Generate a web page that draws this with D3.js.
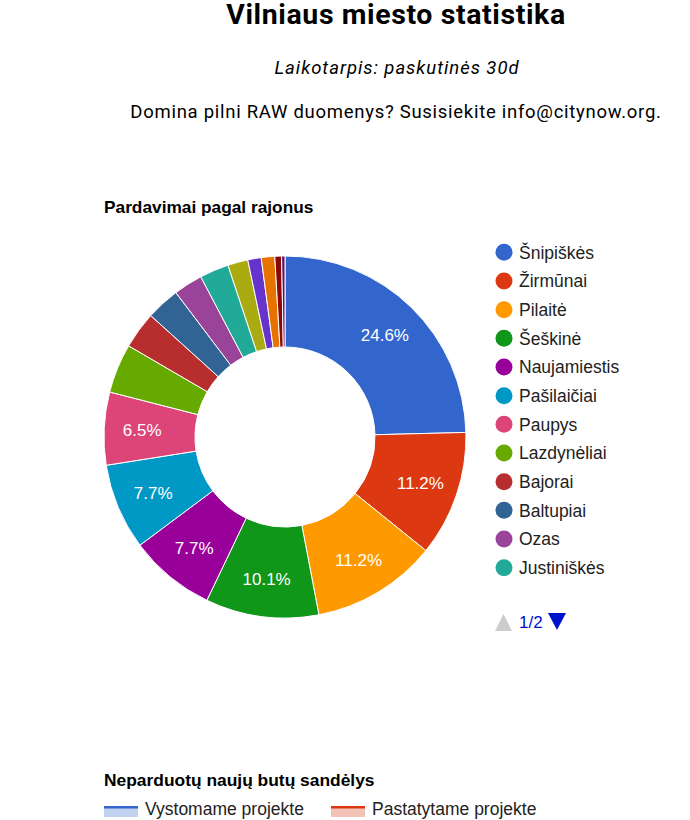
<!DOCTYPE html>
<html><head><meta charset="utf-8">
<script src="https://cdn.jsdelivr.net/npm/d3@7"></script>
<style>body{margin:0;background:#fff;overflow:hidden}</style>
</head><body><svg id="c" width="690" height="820"></svg>
<script>
const districts = ["Šnipiškės","Žirmūnai","Pilaitė","Šeškinė","Naujamiestis","Pašilaičiai","Paupys","Lazdynėliai","Bajorai","Baltupiai","Ozas","Justiniškės","Antakalnis","Užupis","Senamiestis","Fabijoniškės","Karoliniškės"];
const shares = [24.6,11.2,11.2,10.1,7.7,7.7,6.5,4.4,3.3,3.0,2.6,2.6,1.8,1.2,1.2,0.6,0.3];
const sliceColors = ["#3366cc","#dc3912","#ff9900","#109618","#990099","#0099c6","#dd4477","#66aa00","#b82e2e","#316395","#994499","#22aa99","#aaaa11","#6633cc","#e67300","#8b0707","#651067"];
const stockSeries = ["Vystomame projekte","Pastatytame projekte"];
const stockColors = ["#3366cc","#dc3912"];
const pageInfo = "1/2";

const svg = d3.select("#c");

// Headings
svg.append("text").attr("x",396).attr("y",24).attr("text-anchor","middle")
  .style("font-family","Roboto").style("font-weight","bold").style("font-size","28.5px").style("letter-spacing","0.6px").attr("fill","#000")
  .text("Vilniaus miesto statistika");
svg.append("text").attr("x",397).attr("y",74).attr("text-anchor","middle")
  .style("font-family","Roboto").style("font-style","italic").style("font-size","18.5px").style("letter-spacing","0.95px").attr("fill","#000")
  .text("Laikotarpis: paskutinės 30d");
svg.append("text").attr("x",396).attr("y",118).attr("text-anchor","middle")
  .style("font-family","Roboto").style("font-size","18.5px").style("letter-spacing","0.72px").attr("fill","#000")
  .text("Domina pilni RAW duomenys? Susisiekite info@citynow.org.");

// Chart title
svg.append("text").attr("x",104).attr("y",213)
  .style("font-family","'Liberation Sans', Arial").style("font-weight","bold").style("font-size","17.3px").attr("fill","#000")
  .text("Pardavimai pagal rajonus");

// Donut
const cx = 285, cy = 437, rOuter = 181, rInner = 90;
const data = districts.map((d,i)=>({name:d, value:shares[i], color:sliceColors[i]}));
const pie = d3.pie().value(d=>d.value).sort(null);
const arcs = pie(data);
const arc = d3.arc().innerRadius(rInner).outerRadius(rOuter);
const g = svg.append("g").attr("transform",`translate(${cx},${cy})`);
g.selectAll("path").data(arcs).join("path")
  .attr("d",arc).attr("fill",d=>d.data.color).attr("stroke","#fff").attr("stroke-width",1);
const total = d3.sum(shares);
const labelArc = d3.arc().innerRadius(143).outerRadius(143);
g.selectAll("text.pl").data(arcs.filter(a=>a.data.value/total>=0.05)).join("text")
  .attr("class","pl")
  .attr("transform",d=>`translate(${labelArc.centroid(d)})`)
  .attr("text-anchor","middle").attr("dy","0.36em")
  .style("font-family","'Liberation Sans', Arial").style("font-size","17px").attr("fill","#fff")
  .text(d=>(d.data.value/total*100).toFixed(1)+"%");

// Legend (page 1)
const legendPage = data.slice(0,12);
const ly = d3.scaleBand().domain(legendPage.map(d=>d.name)).range([238,582]);
const lg = svg.append("g");
const items = lg.selectAll("g").data(legendPage).join("g")
  .attr("transform",d=>`translate(504,${ly(d.name)+ly.bandwidth()/2})`);
items.append("circle").attr("r",8.5).attr("fill",d=>d.color);
items.append("text").attr("x",15).attr("dy","0.36em")
  .style("font-family","'Liberation Sans', Arial").style("font-size","17.5px").attr("fill","#222")
  .text(d=>d.name);

// Pagination
svg.append("path").attr("d","M495,631 L503.5,614 L512,631 Z").attr("fill","#cccccc");
svg.append("text").attr("x",519).attr("y",628)
  .style("font-family","'Liberation Sans', Arial").style("font-size","17px").attr("fill","#0011cc").text(pageInfo);
svg.append("path").attr("d","M548,613 L566,613 L557,630 Z").attr("fill","#0011cc");

// Second chart heading and legend
svg.append("text").attr("x",104).attr("y",786)
  .style("font-family","'Liberation Sans', Arial").style("font-weight","bold").style("font-size","17.4px").attr("fill","#000")
  .text("Neparduotų naujų butų sandėlys");
const sx = [104, 331];
stockSeries.forEach((s,i)=>{
  const x = sx[i];
  svg.append("rect").attr("x",x).attr("y",807).attr("width",34).attr("height",10).attr("fill",stockColors[i]).attr("fill-opacity",0.3);
  svg.append("rect").attr("x",x).attr("y",806).attr("width",34).attr("height",2.5).attr("fill",stockColors[i]);
  svg.append("text").attr("x",x+41).attr("y",815)
    .style("font-family","'Liberation Sans', Arial").style("font-size","17.5px").attr("fill","#222").text(s);
});
</script></body></html>
